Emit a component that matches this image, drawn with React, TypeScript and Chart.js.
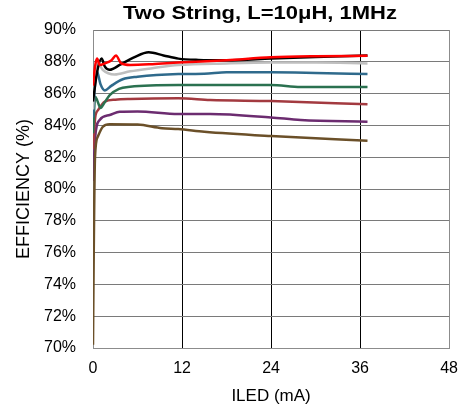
import React, { useEffect, useRef } from "react";
import { Chart, registerables } from "chart.js";

Chart.register(...registerables);

const TITLE = "Two String, L=10μH, 1MHz";
const X_TITLE = "ILED (mA)";
const Y_TITLE = "EFFICIENCY (%)";
const X_TICKS = [0, 12, 24, 36, 48];

const blackX = [0, 0.53, 1.15, 1.6, 2.25, 3.6, 5.6, 7.5, 9.5, 11.5, 14.2, 18, 24, 30, 37];
const blackY = [85.5, 87.3, 88.2, 87.7, 87.5, 87.8, 88.3, 88.6, 88.4, 88.2, 88.12, 88.1, 88.2, 88.3, 88.4];

const redX = [0, 0.27, 0.55, 0.9, 1.6, 2.5, 3.1, 3.8, 5, 8, 11.5, 18, 24, 30, 37];
const redY = [86.5, 87.7, 88.2, 87.8, 87.9, 88.1, 88.4, 87.9, 87.8, 87.85, 87.95, 88.1, 88.28, 88.35, 88.38];

const grayX = [0, 0.3, 0.7, 1.3, 2.9, 5, 8, 11.5, 18, 24, 30, 37];
const grayY = [85, 87.4, 87.9, 87.5, 87.2, 87.4, 87.6, 87.8, 87.9, 87.95, 87.95, 87.9];

const blueX = [0, 0.3, 0.53, 1.0, 1.6, 2.5, 4, 6, 11.5, 15, 18, 24, 30, 37];
const blueY = [84.5, 86.8, 87.4, 86.6, 86.2, 86.5, 86.9, 87.06, 87.23, 87.25, 87.34, 87.34, 87.3, 87.23];

const greenX = [0, 0.3, 0.55, 1.0, 1.5, 2.25, 3.5, 5, 11.5, 24, 28, 37];
const greenY = [83.5, 85.8, 85.6, 85.1, 85.4, 85.9, 86.3, 86.43, 86.54, 86.54, 86.42, 86.42];

const maroonX = [0, 0.3, 0.7, 1.6, 3, 5, 11.5, 15.8, 24, 37];
const maroonY = [82.5, 84.5, 84.97, 85.5, 85.62, 85.66, 85.7, 85.6, 85.53, 85.33];

const purpleX = [0, 0.3, 0.9, 2.25, 3.6, 6, 11.5, 15.8, 24, 28, 37];
const purpleY = [80.5, 83.3, 84.34, 84.65, 84.86, 84.88, 84.72, 84.72, 84.5, 84.34, 84.23];

const brownX = [0, 0.1, 0.27, 0.66, 1.3, 2.25, 6, 9.3, 11.5, 15, 24, 37];
const brownY = [70.2, 76, 82.0, 83.3, 83.9, 84.07, 84.05, 83.82, 83.77, 83.6, 83.33, 83.04];

const FONT = "'Liberation Sans', Arial, sans-serif";

const pts = (xs: number[], ys: number[]) => xs.map((x, i) => ({ x, y: ys[i] }));

const titlePlugin = {
  id: "customTitle",
  afterDraw(chart: any) {
    const ctx = chart.ctx;
    ctx.save();
    ctx.font = `bold 18px ${FONT}`;
    ctx.fillStyle = "#000";
    ctx.textAlign = "center";
    ctx.textBaseline = "alphabetic";
    const w = ctx.measureText(TITLE).width;
    const sx = 274 / w;
    ctx.translate(260, 18.5);
    ctx.scale(sx, 1);
    ctx.fillText(TITLE, 0, 0);
    ctx.restore();
  },
};

export default function App() {
  const ref = useRef<HTMLCanvasElement | null>(null);

  useEffect(() => {
    if (!ref.current) return;
    const ds = (label: string, xs: number[], ys: number[], color: string) => ({
      label,
      data: pts(xs, ys),
      borderColor: color,
      backgroundColor: color,
      borderWidth: 2.5,
      pointRadius: 0,
      cubicInterpolationMode: "monotone" as const,
      fill: false,
    });
    const chart = new Chart(ref.current, {
      type: "line",
      data: {
        datasets: [
          ds("brown", brownX, brownY, "#6b5029"),
          ds("red", redX, redY, "#ff0000"),
          ds("black", blackX, blackY, "#000000"),
          ds("gray", grayX, grayY, "#bfbfbf"),
          ds("blue", blueX, blueY, "#2f6a8c"),
          ds("green", greenX, greenY, "#2b7150"),
          ds("maroon", maroonX, maroonY, "#a33a40"),
          ds("purple", purpleX, purpleY, "#6c2c70"),
        ],
      },
      plugins: [titlePlugin],
      options: {
        responsive: false,
        animation: false,
        devicePixelRatio: 1,
        layout: { padding: { top: 30, right: 14, left: 0, bottom: 0 } },
        plugins: { legend: { display: false }, tooltip: { enabled: false }, title: { display: false } },
        scales: {
          x: {
            type: "linear",
            min: 0,
            max: 48,
            afterBuildTicks: (s: any) => {
              s.ticks = X_TICKS.map((v) => ({ value: v }));
            },
            afterFit: (s: any) => {
              s.height = 62;
            },
            ticks: { color: "#000", font: { family: FONT, size: 16 }, padding: 11, maxRotation: 0 },
            grid: {
              drawTicks: false,
              color: (c: any) => (c.tick && (c.tick.value === 0 || c.tick.value === 48) ? "#8c8c8c" : "#000"),
              lineWidth: 1,
            },
            border: { color: "#8c8c8c", width: 1 },
            title: { display: true, text: X_TITLE, color: "#000", font: { family: FONT, size: 17 }, padding: { top: 0, bottom: 3 } },
          },
          y: {
            min: 70,
            max: 90,
            ticks: { stepSize: 2, color: "#000", font: { family: FONT, size: 16 }, padding: 17, callback: (v: any) => v + "%" },
            afterFit: (s: any) => {
              s.width = 93;
            },
            grid: { drawTicks: false, color: "#7a7a7a", lineWidth: 1 },
            border: { color: "#8c8c8c", width: 1 },
            title: { display: true, text: Y_TITLE, color: "#000", font: { family: FONT, size: 18 }, padding: { top: 13, bottom: 0 } },
          },
        },
      },
    });
    return () => chart.destroy();
  }, []);

  return (
    <div style={{ position: "fixed", left: 0, top: 0, width: 469, height: 410, background: "#fff" }}>
      <canvas ref={ref} width={469} height={410} style={{ display: "block" }} />
    </div>
  );
}
